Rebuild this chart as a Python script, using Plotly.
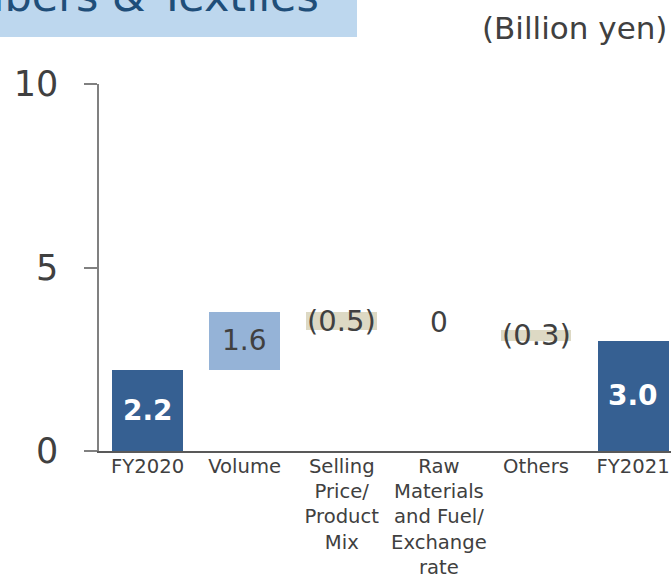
import plotly.graph_objects as go

categories = ["FY2020", "Volume", "Selling<br>Price/<br>Product<br>Mix",
              "Raw<br>Materials<br>and Fuel/<br>Exchange<br>rate", "Others", "FY2021"]
values = [2.2, 1.6, -0.5, 0.0, -0.3, 3.0]
measures = ["total", "relative", "relative", "relative", "relative", "total"]
y_ticks = [0, 5, 10]
title_text = "Fibers & Textiles"
unit_text = "(Billion yen)"

C_TOTAL = "#366092"
C_UP = "#95B3D7"
C_DOWN = "#DDD9C4"
C_TEXT = "#404040"
FONT = "DejaVu Sans"

W, H = 671, 578
L, R, T, B = 99, 0, 84, 127
PW = W - L - R
PH = H - T - B

bases, colors, labels, centers = [], [], [], []
running = 0.0
for v, m in zip(values, measures):
    if m == "total":
        base = 0.0
        running = v
        colors.append(C_TOTAL)
        labels.append(f"{v:.1f}")
    else:
        base = running
        running = running + v
        colors.append(C_UP if v > 0 else C_DOWN)
        if v < 0:
            labels.append(f"({abs(v):.1f})")
        elif v == 0:
            labels.append("0")
        else:
            labels.append(f"{v:.1f}")
    bases.append(base)
    centers.append(base + v / 2)

fig = go.Figure()
fig.add_trace(go.Bar(
    x=list(range(len(categories))), y=values, base=bases,
    marker=dict(color=colors, line=dict(width=0)),
    width=0.73, hoverinfo="skip",
))

annotations = []
for i, (lab, c, m, v) in enumerate(zip(labels, centers, measures, values)):
    total = m == "total"
    annotations.append(dict(
        x=i, y=c, xref="x", yref="y", text=f"<b>{lab}</b>" if total else lab,
        showarrow=False, xanchor="center", yanchor="middle",
        yshift=7 if v == 0 else 0,
        font=dict(family=FONT, size=28 if total else (29 if v < 0 else 28),
                  color="white" if total else C_TEXT),
    ))

annotations.append(dict(
    x=(321 - L) / PW, y=1 + (T - 23) / PH, xref="paper", yref="paper",
    text=title_text, showarrow=False, xanchor="right", yanchor="bottom",
    font=dict(family=FONT, size=43, color="#1F4E79"),
))
annotations.append(dict(
    x=(669 - L) / PW, y=1 + (T - 28) / PH, xref="paper", yref="paper",
    text=unit_text, showarrow=False, xanchor="right", yanchor="middle",
    font=dict(family=FONT, size=31, color=C_TEXT),
))

shapes = [dict(
    type="rect", xref="paper", yref="paper",
    x0=(0 - L) / PW, x1=(357 - L) / PW,
    y0=1 + (T - 37) / PH, y1=1 + (T + 2) / PH,
    fillcolor="#BDD7EE", line=dict(width=0), layer="below",
)]

fig.update_layout(
    width=W, height=H,
    margin=dict(l=L, r=R, t=T, b=B, pad=0, autoexpand=False),
    paper_bgcolor="white", plot_bgcolor="white",
    showlegend=False, bargap=0,
    annotations=annotations, shapes=shapes,
    font=dict(family=FONT, color=C_TEXT),
    xaxis=dict(
        tickmode="array", tickvals=list(range(len(categories))), ticktext=categories,
        range=[-0.5, 5.39], showgrid=False, zeroline=False, automargin=False,
        showline=True, linecolor="#595959", linewidth=2,
        ticks="", ticklabelstandoff=-4,
        tickfont=dict(family=FONT, size=19.6, color=C_TEXT),
    ),
    yaxis=dict(
        range=[0, 10], tickvals=y_ticks, showgrid=False, zeroline=False,
        automargin=False,
        showline=True, linecolor="#808080", linewidth=1.5,
        ticks="outside", ticklen=13, tickcolor="#808080", tickwidth=1.5,
        ticklabelstandoff=19,
        tickfont=dict(family=FONT, size=35, color=C_TEXT),
    ),
)

fig.write_html("out.html")
